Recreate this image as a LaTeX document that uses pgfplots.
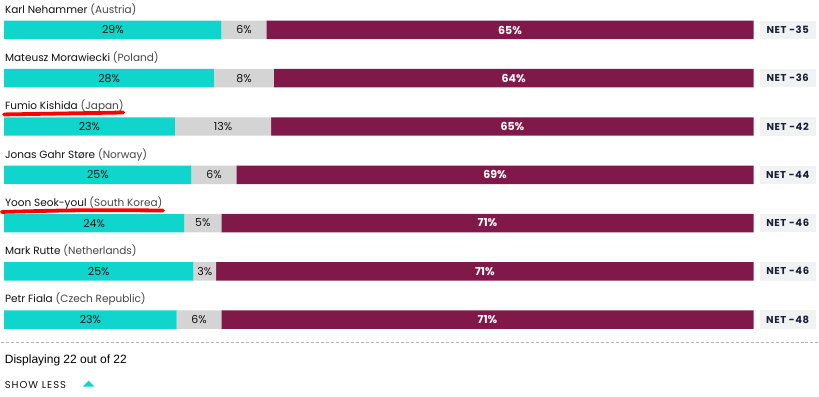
\documentclass[border=0pt]{standalone}
\usepackage{fontspec}
\setmainfont{Poppins}
\newfontfamily\arialfont{Liberation Sans}
\usepackage{pgfplots}
\usepackage{pgfplotstable}
\pgfplotsset{compat=1.18}
\definecolor{cteal}{HTML}{10D5CC}
\definecolor{cgray}{HTML}{D4D4D4}
\definecolor{cpurp}{HTML}{81184A}
\definecolor{cnet}{HTML}{F1F2F2}
\definecolor{cnettext}{HTML}{1C1F3B}
\definecolor{cname}{HTML}{111111}
\definecolor{ccountry}{HTML}{444444}
\DeclareRobustCommand\cty[1]{\textcolor{ccountry}{#1}}

% widths as drawn (share of the bar) and printed labels
\pgfplotstableread{
row teal gray purp tl gl pl net
0 29 6 65 29 6 65 -35
1 28 8 64 28 8 64 -36
2 22.77 12.87 64.36 23 13 65 -42
3 25 6 69 25 6 69 -44
4 24 5 71 24 5 71 -46
5 25.25 3.03 71.72 25 3 71 -46
6 23 6 71 23 6 71 -48
}\data

\pgfplotstableread[col sep=comma]{
row,name
0,Karl Nehammer \cty{(Austria)}
1,Mateusz Morawiecki \cty{(Poland)}
2,Fumio Kishida \cty{(Japan)}
3,Jonas Gahr Støre \cty{(Norway)}
4,Yoon Seok-youl \cty{(South Korea)}
5,Mark Rutte \cty{(Netherlands)}
6,Petr Fiala \cty{(Czech Republic)}
}\names

\pgfplotsset{base/.style={
  scale only axis, width=819bp, height=397bp,
  xmin=-0.5333, xmax=108.667, ymin=-0.621, ymax=7.598,
  y dir=reverse, hide axis, clip=false}}

\begin{document}
\begin{tikzpicture}
\begin{axis}[base, xbar stacked, bar width=18.5bp]
\addplot[fill=cteal, draw=none] table[x=teal, y=row]{\data};
\addplot[fill=cgray, draw=none] table[x=gray, y=row]{\data};
\addplot[fill=cpurp, draw=none] table[x=purp, y=row]{\data};
\end{axis}
\begin{axis}[base]
\path (rel axis cs:0,0) rectangle (rel axis cs:1,1);
% percentage labels
\addplot[draw=none, mark=none, nodes near coords={\pgfplotspointmeta\%}, point meta=explicit symbolic,
  every node near coord/.append style={anchor=center, text=cname, font=\fontsize{11bp}{12bp}\selectfont}]
  table[x expr=\thisrow{teal}/2, y=row, meta=tl]{\data};
\addplot[draw=none, mark=none, nodes near coords={\pgfplotspointmeta\%}, point meta=explicit symbolic,
  every node near coord/.append style={anchor=center, text=cname, font=\fontsize{11bp}{12bp}\selectfont}]
  table[x expr=\thisrow{teal}+\thisrow{gray}/2, y=row, meta=gl]{\data};
\addplot[draw=none, mark=none, nodes near coords={\pgfplotspointmeta\%}, point meta=explicit symbolic,
  every node near coord/.append style={anchor=center, text=white, font=\fontsize{11bp}{12bp}\selectfont\bfseries}]
  table[x expr=\thisrow{teal}+\thisrow{gray}+\thisrow{purp}/2, y=row, meta=pl]{\data};
% NET boxes
\addplot[draw=none, mark=none, nodes near coords={NET\ \pgfplotspointmeta}, point meta=explicit symbolic,
  every node near coord/.append style={anchor=west, fill=cnet, text=cnettext, minimum height=18.5bp, minimum width=56bp, inner xsep=3bp, inner ysep=0pt,
  font=\fontsize{10bp}{12bp}\selectfont\bfseries\addfontfeature{LetterSpace=6}}]
  table[x expr=100.8, y=row, meta=net]{\data};
% names
\addplot[draw=none, mark=none, point meta=explicit symbolic,
  nodes near coords={\textcolor{cname}{\pgfplotspointmeta}},
  every node near coord/.append style={anchor=base west, inner sep=0pt, font=\fontsize{10.5bp}{13bp}\selectfont}]
  table[x expr=0.1, y expr=\thisrow{row}-0.346, meta=name]{\names};
% red underlines
\draw[red, line width=3.8bp, line cap=round] (axis cs:0.0,1.75) .. controls (axis cs:8,1.72) .. (axis cs:15.9,1.71);
\draw[red, line width=3.8bp, line cap=round] (axis cs:-0.3,3.77) .. controls (axis cs:10,3.73) .. (axis cs:21.2,3.74);
% footer
\draw[black!30, line width=1bp, dash pattern=on 3bp off 2bp] (axis cs:-0.4,6.466) -- (axis cs:108.67,6.466);
\node[anchor=base west, inner sep=0pt, font=\arialfont\fontsize{12bp}{13bp}\selectfont, text=black] at (axis cs:0.07,6.92) {Displaying 22 out of 22};
\node[anchor=base west, inner sep=0pt, font=\fontsize{10bp}{11bp}\selectfont\addfontfeature{LetterSpace=10}, text=cname] at (axis cs:0.07,7.43) {SHOW LESS};
\fill[cteal] (axis cs:10.5,7.39) -- (axis cs:12.05,7.39) -- (axis cs:11.27,7.265) -- cycle;
\end{axis}
\end{tikzpicture}
\end{document}
